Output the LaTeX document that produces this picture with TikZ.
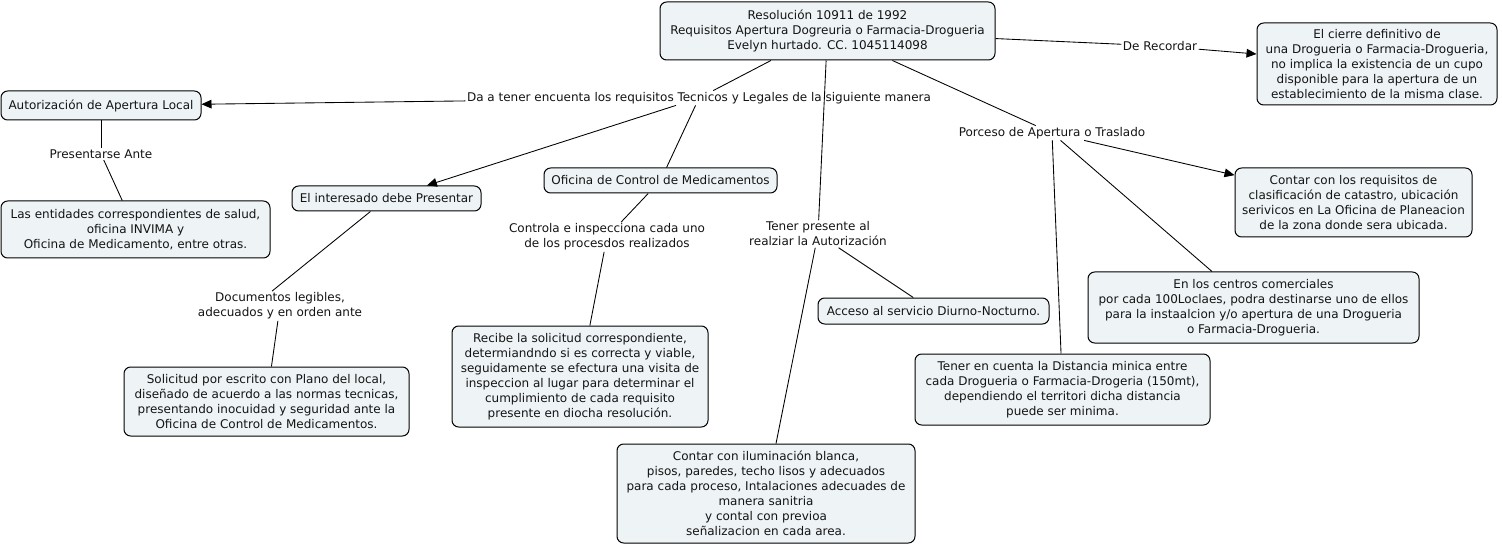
\documentclass[tikz,border=0pt]{standalone}
\usepackage{fontspec}
\setmainfont{DejaVu Sans}
\usetikzlibrary{arrows.meta}
\definecolor{boxfill}{RGB}{238,243,245}
\definecolor{ink}{RGB}{20,20,20}
\begin{document}
\begin{tikzpicture}[x=0.75pt,y=-0.75pt,
  font=\fontsize{9}{11.25}\selectfont, text=ink,
  box/.style={draw=black, line width=0.75pt, rounded corners=5pt, fill=boxfill, align=center, inner sep=0pt},
  sz/.style 2 args={minimum width=#1*0.75pt, minimum height=#2*0.75pt},
  lbl/.style={align=center, inner sep=1pt},
  conn/.style={line width=0.65pt, draw=black},
  arr/.style={conn, -{Triangle[length=7.5pt,width=6.5pt]}}]
\useasboundingbox (0,0) rectangle (1502,545);
\fill[white] (0,0) rectangle (1502,545);

% concept boxes
\node[box, sz={335}{58}] (top) at (827.5,31) {Resolución 10911 de 1992\\Requisitos Apertura Dogreuria o Farmacia-Drogueria\\Evelyn hurtado. CC. 1045114098};
\node[box, sz={240}{82}] (cierre) at (1377,64) {El cierre definitivo de\\una Drogueria o Farmacia-Drogueria,\\no implica la existencia de un cupo\\disponible para la apertura de un\\establecimiento de la misma clase.};
\node[box, sz={200}{29}] (aut) at (101,105.5) {Autorización de Apertura Local};
\node[box, sz={269}{57}] (ent) at (135.5,229.5) {Las entidades correspondientes de salud,\\oficina INVIMA y\\Oficina de Medicamento, entre otras.};
\node[box, sz={189}{25}] (int) at (386.5,198.5) {El interesado debe Presentar};
\node[box, sz={233}{25}] (ofi) at (660.5,180.5) {Oficina de Control de Medicamentos};
\node[box, sz={256}{101}] (rec) at (580,376.5) {Recibe la solicitud correspondiente,\\determiandndo si es correcta y viable,\\seguidamente se efectura una visita de\\inspeccion al lugar para determinar el\\cumplimiento de cada requisito\\presente en diocha resolución.};
\node[box, sz={285}{69}] (sol) at (266.5,401.5) {Solicitud por escrito con Plano del local,\\diseñado de acuerdo a las normas tecnicas,\\presentando inocuidad y seguridad ante la\\Oficina de Control de Medicamentos.};
\node[box, sz={231}{26}] (acc) at (933.5,311) {Acceso al servicio Diurno-Nocturno.};
\node[box, sz={298}{99}] (ilu) at (766,493.5) {Contar con iluminación blanca,\\pisos, paredes, techo lisos y adecuados\\para cada proceso, Intalaciones adecuades de\\manera sanitria\\y contal con previoa\\señalizacion en cada area.};
\node[box, sz={237}{69}] (req) at (1353.5,202.5) {Contar con los requisitos de\\clasificación de catastro, ubicación\\serivicos en La Oficina de Planeacion\\de la zona donde sera ubicada.};
\node[box, sz={331}{71}] (cen) at (1253.5,307.5) {En los centros comerciales\\por cada 100Loclaes, podra destinarse uno de ellos\\para la instaalcion y/o apertura de una Drogueria\\o Farmacia-Drogueria.};
\node[box, sz={295}{71}] (dis) at (1062.5,389.5) {Tener en cuenta la Distancia minica entre\\cada Drogueria o Farmacia-Drogeria (150mt),\\dependiendo el territori dicha distancia\\puede ser minima.};

% linking phrases
\node[lbl] (lrec) at (1160,46) {De Recordar};
\node[lbl] (lda) at (699,98) {Da a tener encuenta los requisitos Tecnicos y Legales de la siguiente manera};
\node[lbl] (lpres) at (101,154) {Presentarse Ante};
\node[lbl] (lctrl) at (607,237) {Controla e inspecciona cada uno\\de los procesdos realizados};
\node[lbl] (lten) at (818,234) {Tener presente al\\realziar la Autorización};
\node[lbl] (lporc) at (1052,133) {Porceso de Apertura o Traslado};
\node[lbl] (ldoc) at (280,306) {Documentos legibles,\\adecuados y en orden ante};

% connectors
\draw[conn] (top) -- (lrec);
\draw[arr] (lrec) -- (cierre);
\draw[conn] (top) -- (lda);
\draw[arr] (lda) -- (aut);
\draw[arr] (lda) -- (int);
\draw[conn] (lda) -- (ofi);
\draw[conn] (top) -- (lten);
\draw[conn] (lten) -- (acc);
\draw[conn] (lten) -- (ilu);
\draw[conn] (top) -- (lporc);
\draw[arr] (lporc) -- (req);
\draw[conn] (lporc) -- (cen);
\draw[conn] (lporc) -- (dis);
\draw[conn] (aut) -- (lpres);
\draw[conn] (lpres) -- (ent);
\draw[conn] (int) -- (ldoc.118);
\draw[conn] (ldoc) -- (sol);
\draw[conn] (ofi) -- (lctrl);
\draw[conn] (lctrl) -- (rec);
\end{tikzpicture}
\end{document}
